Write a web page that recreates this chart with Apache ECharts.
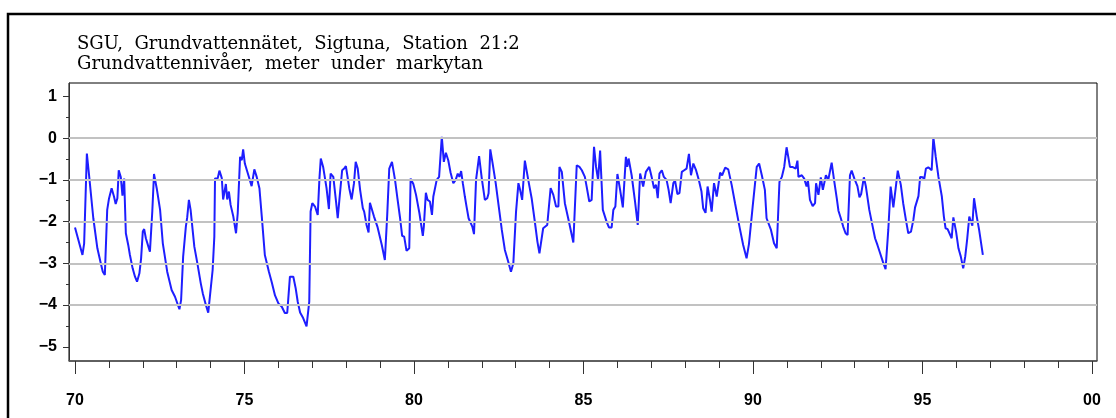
<!DOCTYPE html>
<html>
<head>
<meta charset="utf-8">
<title>SGU Grundvattennätet Sigtuna</title>
<script src="https://cdn.jsdelivr.net/npm/echarts@6/dist/echarts.min.js"></script>
<style>
  html, body { margin: 0; padding: 0; background: #fff; }
  #chart { width: 1116px; height: 418px; }
</style>
</head>
<body>
<div id="chart"></div>
<script>
// groundwater level readings (decimal year, metres relative to ground)
var years = [
  1970.00, 1970.10, 1970.22, 1970.27, 1970.35, 1970.42, 1970.54, 1970.66, 1970.76, 1970.82,
  1970.88, 1970.95, 1971.00, 1971.03, 1971.08, 1971.15, 1971.20, 1971.25, 1971.29, 1971.35,
  1971.40, 1971.45, 1971.50, 1971.57, 1971.62, 1971.70, 1971.77, 1971.83, 1971.90, 1971.95,
  1972.00, 1972.04, 1972.09, 1972.14, 1972.21, 1972.28, 1972.33, 1972.41, 1972.51, 1972.59,
  1972.72, 1972.85, 1972.95, 1973.08, 1973.13, 1973.19, 1973.27, 1973.31, 1973.36, 1973.41,
  1973.52, 1973.61, 1973.71, 1973.77, 1973.86, 1973.93, 1973.98, 1974.06, 1974.11, 1974.13,
  1974.18, 1974.21, 1974.26, 1974.33, 1974.37, 1974.42, 1974.45, 1974.49, 1974.54, 1974.57,
  1974.59, 1974.67, 1974.75, 1974.80, 1974.87, 1974.92, 1974.96, 1975.01, 1975.06, 1975.13,
  1975.21, 1975.29, 1975.36, 1975.44, 1975.51, 1975.60, 1975.72, 1975.80, 1975.90, 1976.00,
  1976.10, 1976.19, 1976.26, 1976.34, 1976.44, 1976.51, 1976.57, 1976.64, 1976.73, 1976.83,
  1976.91, 1976.95, 1977.00, 1977.08, 1977.16, 1977.21, 1977.25, 1977.32, 1977.42, 1977.49,
  1977.54, 1977.62, 1977.70, 1977.75, 1977.80, 1977.88, 1977.94, 1977.99, 1978.04, 1978.09,
  1978.16, 1978.23, 1978.28, 1978.34, 1978.41, 1978.49, 1978.53, 1978.60, 1978.66, 1978.70,
  1978.75, 1978.82, 1978.92, 1979.05, 1979.14, 1979.21, 1979.27, 1979.35, 1979.44, 1979.51,
  1979.59, 1979.65, 1979.71, 1979.78, 1979.86, 1979.90, 1979.98, 1980.06, 1980.16, 1980.26,
  1980.29, 1980.35, 1980.40, 1980.47, 1980.53, 1980.57, 1980.62, 1980.67, 1980.74, 1980.82,
  1980.88, 1980.94, 1981.01, 1981.08, 1981.16, 1981.23, 1981.29, 1981.34, 1981.39, 1981.44,
  1981.50, 1981.55, 1981.61, 1981.66, 1981.72, 1981.77, 1981.83, 1981.92, 1982.00, 1982.09,
  1982.16, 1982.20, 1982.25, 1982.32, 1982.41, 1982.50, 1982.59, 1982.68, 1982.78, 1982.86,
  1982.93, 1983.01, 1983.08, 1983.13, 1983.19, 1983.27, 1983.37, 1983.47, 1983.57, 1983.64,
  1983.70, 1983.81, 1983.93, 1984.03, 1984.11, 1984.19, 1984.26, 1984.29, 1984.36, 1984.45,
  1984.58, 1984.70, 1984.80, 1984.88, 1984.95, 1985.04, 1985.09, 1985.17, 1985.24, 1985.31,
  1985.37, 1985.43, 1985.49, 1985.57, 1985.68, 1985.75, 1985.83, 1985.88, 1985.94, 1986.00,
  1986.08, 1986.16, 1986.20, 1986.25, 1986.29, 1986.33, 1986.42, 1986.52, 1986.60, 1986.67,
  1986.76, 1986.84, 1986.94, 1987.01, 1987.08, 1987.14, 1987.19, 1987.24, 1987.31, 1987.37,
  1987.45, 1987.51, 1987.57, 1987.65, 1987.70, 1987.77, 1987.83, 1987.90, 1987.97, 1988.04,
  1988.11, 1988.17, 1988.24, 1988.32, 1988.40, 1988.48, 1988.53, 1988.60, 1988.66, 1988.73,
  1988.78, 1988.85, 1988.93, 1989.03, 1989.09, 1989.18, 1989.27, 1989.37, 1989.47, 1989.60,
  1989.71, 1989.81, 1989.88, 1989.99, 1990.11, 1990.18, 1990.26, 1990.35, 1990.40, 1990.45,
  1990.53, 1990.62, 1990.70, 1990.78, 1990.85, 1990.92, 1990.99, 1991.04, 1991.09, 1991.16,
  1991.21, 1991.26, 1991.31, 1991.34, 1991.44, 1991.51, 1991.58, 1991.62, 1991.68, 1991.76,
  1991.83, 1991.86, 1991.93, 1992.00, 1992.06, 1992.15, 1992.22, 1992.32, 1992.39, 1992.47,
  1992.52, 1992.59, 1992.66, 1992.73, 1992.79, 1992.86, 1992.91, 1992.99, 1993.08, 1993.14,
  1993.19, 1993.27, 1993.33, 1993.43, 1993.50, 1993.60, 1993.67, 1993.75, 1993.83, 1993.91,
  1993.99, 1994.06, 1994.14, 1994.22, 1994.27, 1994.36, 1994.43, 1994.51, 1994.58, 1994.66,
  1994.73, 1994.78, 1994.83, 1994.88, 1994.93, 1995.01, 1995.05, 1995.10, 1995.17, 1995.22,
  1995.27, 1995.32, 1995.39, 1995.47, 1995.57, 1995.63, 1995.68, 1995.74, 1995.86, 1995.91,
  1995.99, 1996.06, 1996.13, 1996.20, 1996.26, 1996.32, 1996.38, 1996.47, 1996.52, 1996.60,
  1996.67, 1996.78
];
var levels = [
  -2.14, -2.44, -2.80, -2.52, -0.37, -0.93, -1.92, -2.64, -3.00, -3.20,
  -3.28, -1.72, -1.46, -1.44, -1.20, -1.40, -1.58, -1.44, -0.77, -0.93,
  -1.38, -0.97, -2.28, -2.56, -2.80, -3.12, -3.32, -3.44, -3.24, -2.88,
  -2.24, -2.18, -2.40, -2.44, -2.72, -1.76, -0.86, -1.20, -1.72, -2.52,
  -3.20, -3.64, -3.80, -4.10, -3.88, -2.84, -2.12, -1.90, -1.48, -1.72,
  -2.60, -3.00, -3.48, -3.72, -4.00, -4.18, -4.18, -3.16, -2.36, -0.97,
  -0.93, -0.96, -0.78, -0.96, -1.47, -1.44, -1.10, -1.47, -1.28, -1.32,
  -1.60, -1.88, -2.28, -1.80, -0.45, -0.53, -0.27, -0.61, -0.61, -0.93,
  -1.15, -0.75, -0.93, -1.20, -1.88, -2.80, -3.20, -3.44, -3.77, -3.96,
  -4.04, -4.19, -4.19, -3.32, -3.32, -3.60, -3.92, -4.18, -4.31, -4.51,
  -3.92, -1.76, -1.56, -1.64, -1.84, -0.97, -0.49, -0.69, -1.20, -1.70,
  -0.85, -0.93, -1.52, -1.92, -1.47, -0.77, -0.73, -0.67, -0.93, -1.20,
  -1.47, -1.08, -0.57, -0.73, -1.24, -1.68, -1.76, -2.08, -2.26, -1.55,
  -1.52, -1.88, -2.12, -2.56, -2.92, -1.84, -0.73, -0.57, -1.00, -1.44,
  -1.92, -2.34, -2.36, -2.70, -2.64, -0.97, -1.10, -1.36, -1.80, -2.34,
  -2.12, -1.31, -1.48, -1.52, -1.84, -1.40, -1.40, -1.00, -0.93, 0.03,
  -0.57, -0.35, -0.53, -0.83, -1.08, -1.00, -0.85, -0.93, -0.79, -1.08,
  -1.40, -1.64, -1.92, -1.96, -2.12, -2.30, -1.00, -0.43, -0.97, -1.48,
  -1.44, -1.32, -0.27, -0.61, -1.08, -1.64, -2.20, -2.68, -2.96, -3.20,
  -3.00, -1.76, -1.08, -1.24, -1.48, -0.54, -1.00, -1.44, -2.04, -2.48,
  -2.76, -2.16, -2.08, -1.20, -1.36, -1.64, -1.64, -0.69, -0.81, -1.56,
  -2.04, -2.50, -0.65, -0.69, -0.77, -0.93, -1.15, -1.52, -1.48, -0.21,
  -0.69, -1.00, -0.30, -1.72, -2.00, -2.14, -2.14, -1.72, -1.64, -0.86,
  -1.24, -1.66, -1.66, -0.45, -0.69, -0.49, -0.89, -1.52, -2.08, -0.85,
  -1.16, -0.81, -0.69, -0.93, -1.20, -1.12, -1.44, -0.85, -0.77, -0.93,
  -1.00, -1.24, -1.56, -1.08, -1.02, -1.34, -1.32, -0.81, -0.77, -0.73,
  -0.38, -0.89, -0.61, -0.77, -1.00, -1.28, -1.68, -1.79, -1.16, -1.48,
  -1.76, -1.08, -1.40, -0.83, -0.89, -0.71, -0.75, -1.12, -1.56, -2.12,
  -2.56, -2.88, -2.54, -1.64, -0.69, -0.61, -0.89, -1.24, -1.92, -1.88,
  -2.20, -2.52, -2.64, -1.05, -0.93, -0.69, -0.22, -0.45, -0.69, -0.69,
  -0.65, -0.73, -0.54, -0.93, -0.89, -0.97, -1.16, -1.02, -1.48, -1.63,
  -1.56, -1.08, -1.36, -0.94, -1.24, -0.89, -1.00, -0.59, -1.00, -1.44,
  -1.74, -1.92, -2.12, -2.28, -2.32, -0.89, -0.78, -0.97, -1.15, -1.42,
  -1.34, -0.94, -1.16, -1.72, -2.00, -2.40, -2.56, -2.76, -2.96, -3.14,
  -2.20, -1.16, -1.66, -1.12, -0.78, -1.12, -1.56, -1.96, -2.28, -2.24,
  -1.96, -1.66, -1.66, -1.39, -0.93, -0.94, -0.99, -0.73, -0.70, -0.69,
  -0.77, 0.02, -0.45, -0.93, -1.40, -1.88, -2.16, -2.18, -2.40, -1.90,
  -2.24, -2.64, -2.84, -3.12, -2.84, -2.40, -1.88, -2.10, -1.44, -1.88,
  -2.20, -2.80
];

// axis ticks and labels
var yearTicks = [1970, 1971, 1972, 1973, 1974, 1975, 1976, 1977, 1978, 1979, 1980,
  1981, 1982, 1983, 1984, 1985, 1986, 1987, 1988, 1989, 1990,
  1991, 1992, 1993, 1994, 1995, 1996, 1997, 1998, 1999, 2000];
var yearLabels = [1970, 1975, 1980, 1985, 1990, 1995, 2000];
var levelLabels = [1, 0, -1, -2, -3, -4, -5];
var levelHalfTicks = [0.5, -0.5, -1.5, -2.5, -3.5, -4.5];
var gridLevels = [0, -1, -2, -3, -4];

var titleText = 'SGU,  Grundvattennätet,  Sigtuna,  Station  21:2\nGrundvattennivåer,  meter  under  markytan';

var points = years.map(function (y, i) { return [y, levels[i]]; });

var myChart = echarts.init(document.getElementById('chart'));

var labelFont = {
    color: '#000',
    fontFamily: 'Liberation Sans',
    fontWeight: 'bold',
    fontSize: 16
};

myChart.setOption({
    animation: false,
    backgroundColor: '#fff',
    title: {
        text: titleText,
        left: 72,
        top: 29,
        textStyle: {
            fontFamily: 'DejaVu Serif',
            fontWeight: 'normal',
            fontSize: 18,
            lineHeight: 20,
            color: '#000'
        }
    },
    graphic: [{
        type: 'rect',
        shape: { x: 8, y: 14, width: 1200, height: 500 },
        style: { fill: 'none', stroke: '#000', lineWidth: 2.5 },
        silent: true
    }],
    grid: {
        left: 69,
        right: 19,
        top: 83,
        bottom: 57,
        show: true,
        borderColor: '#000',
        borderWidth: 1,
        outerBoundsMode: 'none'
    },
    xAxis: [{
        type: 'value',
        min: 1969.823,
        max: 2000.147,
        position: 'bottom',
        axisLine: { onZero: false, lineStyle: { color: '#555', width: 1.5 } },
        axisTick: { customValues: yearTicks, length: 7, lineStyle: { color: '#333', width: 1 } },
        axisLabel: {
            customValues: yearLabels,
            margin: 32,
            formatter: function (v) { return String(Math.round(v) % 100).padStart(2, '0'); },
            color: labelFont.color,
            fontFamily: labelFont.fontFamily,
            fontWeight: labelFont.fontWeight,
            fontSize: labelFont.fontSize
        },
        splitLine: { show: false }
    }, {
        type: 'value',
        min: 1969.823,
        max: 2000.147,
        position: 'bottom',
        offset: 0,
        axisLine: { show: false, onZero: false },
        axisTick: { customValues: yearLabels, length: 13, lineStyle: { color: '#333', width: 1 } },
        axisLabel: { show: false },
        splitLine: { show: false }
    }],
    yAxis: [{
        type: 'value',
        min: -5.34,
        max: 1.32,
        position: 'left',
        axisLine: { show: true, onZero: false, lineStyle: { color: '#333', width: 1 } },
        axisTick: { customValues: levelLabels, length: 6, lineStyle: { color: '#333' } },
        axisLabel: {
            customValues: levelLabels,
            margin: 12,
            formatter: function (v) { return v < 0 ? '\u2212' + Math.abs(v) : String(v); },
            color: labelFont.color,
            fontFamily: labelFont.fontFamily,
            fontWeight: labelFont.fontWeight,
            fontSize: labelFont.fontSize
        },
        splitLine: { show: false }
    }, {
        type: 'value',
        min: -5.34,
        max: 1.32,
        position: 'left',
        offset: 0,
        axisLine: { show: false, onZero: false },
        axisTick: { customValues: levelHalfTicks, length: 3, lineStyle: { color: '#333' } },
        axisLabel: { show: false },
        splitLine: { show: false }
    }],
    series: [{
        name: 'grid',
        type: 'line',
        data: [],
        z: 1,
        silent: true,
        markLine: {
            silent: true,
            symbol: 'none',
            label: { show: false },
            lineStyle: { color: '#c2c2c2', width: 2, type: 'solid' },
            data: gridLevels.map(function (v) { return { yAxis: v }; })
        }
    }, {
        name: 'Grundvattennivå',
        type: 'line',
        data: points,
        z: 3,
        showSymbol: false,
        symbol: 'none',
        lineStyle: { color: '#1e1eff', width: 2 }
    }]
});
</script>
</body>
</html>
